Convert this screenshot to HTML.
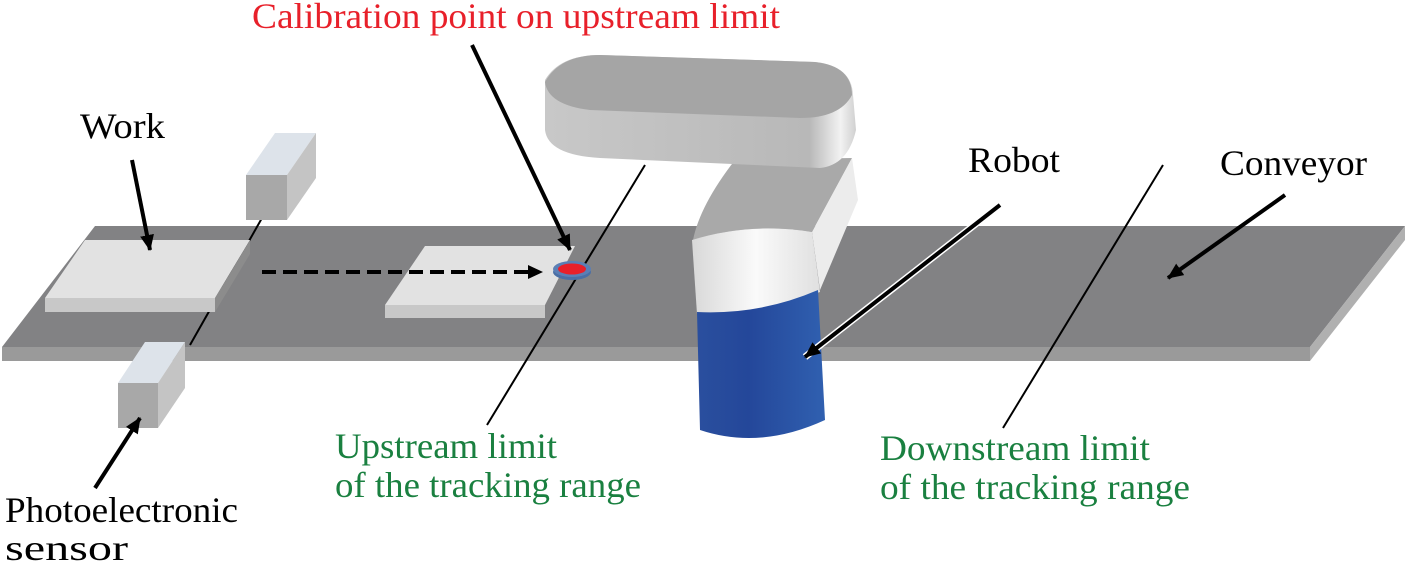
<!DOCTYPE html>
<html><head><style>body{margin:0;background:#fff}svg{display:block}text{font-family:"Liberation Serif",serif;font-size:36px}</style></head><body>
<svg width="1405" height="572" viewBox="0 0 1405 572" xmlns="http://www.w3.org/2000/svg">
<defs>
<marker id="ah2" markerWidth="16" markerHeight="14" refX="15" refY="7" orient="auto" markerUnits="userSpaceOnUse"><path d="M0,0 L16,7 L0,14 z" fill="#000"/></marker>
<linearGradient id="blue" x1="0" x2="1"><stop offset="0" stop-color="#2a4f9e"/><stop offset="0.4" stop-color="#24479a"/><stop offset="1" stop-color="#3060b0"/></linearGradient>
<linearGradient id="white" x1="0" x2="1"><stop offset="0" stop-color="#d8d8d8"/><stop offset="0.5" stop-color="#fafafa"/><stop offset="1" stop-color="#e0e0e0"/></linearGradient>
<linearGradient id="arm" x1="0" x2="1"><stop offset="0" stop-color="#c8c8c8"/><stop offset="0.85" stop-color="#b8b8b8"/><stop offset="0.95" stop-color="#f2f2f2"/><stop offset="1" stop-color="#d0d0d0"/></linearGradient>
</defs>
<polygon points="95,226 1405,226 1310,347 2,347" fill="#828284"/>
<polygon points="2,347 1310,347 1310,361 2,361" fill="#9a9a9a"/>
<polygon points="1310,347 1405,226 1405,240 1310,361" fill="#b0b0b0"/>
<line x1="262" y1="218" x2="190" y2="345" stroke="#000" stroke-width="2"/>
<polygon points="246,175 275,133 316,133 287,175" fill="#dde3ea"/>
<polygon points="287,175 316,133 316,178 287,220" fill="#c4c4c4"/>
<rect x="246" y="175" width="41" height="45" fill="#a8a8a8"/>
<polygon points="85,240 250,240 215,298 45,298" fill="#e2e2e2"/>
<polygon points="45,298 215,298 215,312 45,312" fill="#c8c8c8"/>
<polygon points="215,298 250,240 250,254 215,312" fill="#8c8c8c"/>
<polygon points="425,246 575,246 545,305 385,305" fill="#e2e2e2"/>
<polygon points="385,305 545,305 545,318 385,318" fill="#c8c8c8"/>
<polygon points="118,383 145,342 185,342 158,383" fill="#dde3ea"/>
<polygon points="158,383 185,342 185,388 158,428" fill="#c4c4c4"/>
<rect x="118" y="383" width="40" height="45" fill="#a8a8a8"/>
<line x1="645" y1="165" x2="487" y2="425" stroke="#000" stroke-width="2"/>
<ellipse cx="572" cy="272" rx="19" ry="8" fill="#4a6fa5"/>
<ellipse cx="572" cy="269" rx="19" ry="8" fill="#5b7fb5"/>
<ellipse cx="572" cy="269" rx="14" ry="5.5" fill="#e8202a"/>
<line x1="262" y1="272" x2="530" y2="272" stroke="#000" stroke-width="4" stroke-dasharray="14,7"/>
<path d="M528,265 L543,272 L528,279 z" fill="#000"/>
<!-- robot lower -->
<path d="M735,160 L852,158 L812,232 Q750,222 693,240 Q700,205 735,160 Z" fill="#a9a9a9"/>
<path d="M852,158 L858,200 L820,290 L812,232 Z" fill="#ececec"/>
<path d="M692,240 Q750,222 812,232 L820,292 Q760,315 697,314 Z" fill="url(#white)"/>
<path d="M697,312 Q760,315 818,290 L825,420 Q760,450 700,430 Z" fill="url(#blue)"/>
<!-- upper arm -->
<path d="M545,80 Q560,55 600,55 L815,62 Q852,66 853,95 L856,130 Q848,165 820,168 L600,158 Q548,155 545,130 Z" fill="url(#arm)"/>
<path d="M545,82 Q560,55 600,55 L815,62 Q852,66 852,95 Q840,118 800,118 L590,110 Q548,105 545,82 Z" fill="#a5a5a5"/>
<line x1="1163" y1="165" x2="1003" y2="428" stroke="#000" stroke-width="2"/>
<line x1="472" y1="45" x2="570" y2="250" stroke="#000" stroke-width="4" marker-end="url(#ah2)"/>
<line x1="132" y1="160" x2="150" y2="250" stroke="#000" stroke-width="4" marker-end="url(#ah2)"/>
<line x1="95" y1="488" x2="140" y2="418" stroke="#000" stroke-width="4" marker-end="url(#ah2)"/>
<line x1="1000" y1="205" x2="805" y2="357" stroke="#fff" stroke-width="7"/>
<line x1="1000" y1="205" x2="805" y2="357" stroke="#000" stroke-width="4" marker-end="url(#ah2)"/>
<line x1="1285" y1="195" x2="1168" y2="278" stroke="#000" stroke-width="4" marker-end="url(#ah2)"/>
<text x="252" y="28" fill="#e8202a" textLength="528" lengthAdjust="spacingAndGlyphs">Calibration point on upstream limit</text>
<text x="80" y="138" textLength="85" lengthAdjust="spacingAndGlyphs">Work</text>
<text x="968" y="172" textLength="92" lengthAdjust="spacingAndGlyphs">Robot</text>
<text x="1220" y="175" textLength="147" lengthAdjust="spacingAndGlyphs">Conveyor</text>
<text x="335" y="458" fill="#1a8040" textLength="222" lengthAdjust="spacingAndGlyphs">Upstream limit</text>
<text x="335" y="497" fill="#1a8040" textLength="306" lengthAdjust="spacingAndGlyphs">of the tracking range</text>
<text x="880" y="460" fill="#1a8040" textLength="270" lengthAdjust="spacingAndGlyphs">Downstream limit</text>
<text x="880" y="499" fill="#1a8040" textLength="310" lengthAdjust="spacingAndGlyphs">of the tracking range</text>
<text x="5" y="522" textLength="233" lengthAdjust="spacingAndGlyphs">Photoelectronic</text>
<text x="5" y="560" textLength="123" lengthAdjust="spacingAndGlyphs">sensor</text>
</svg>
</body></html>
